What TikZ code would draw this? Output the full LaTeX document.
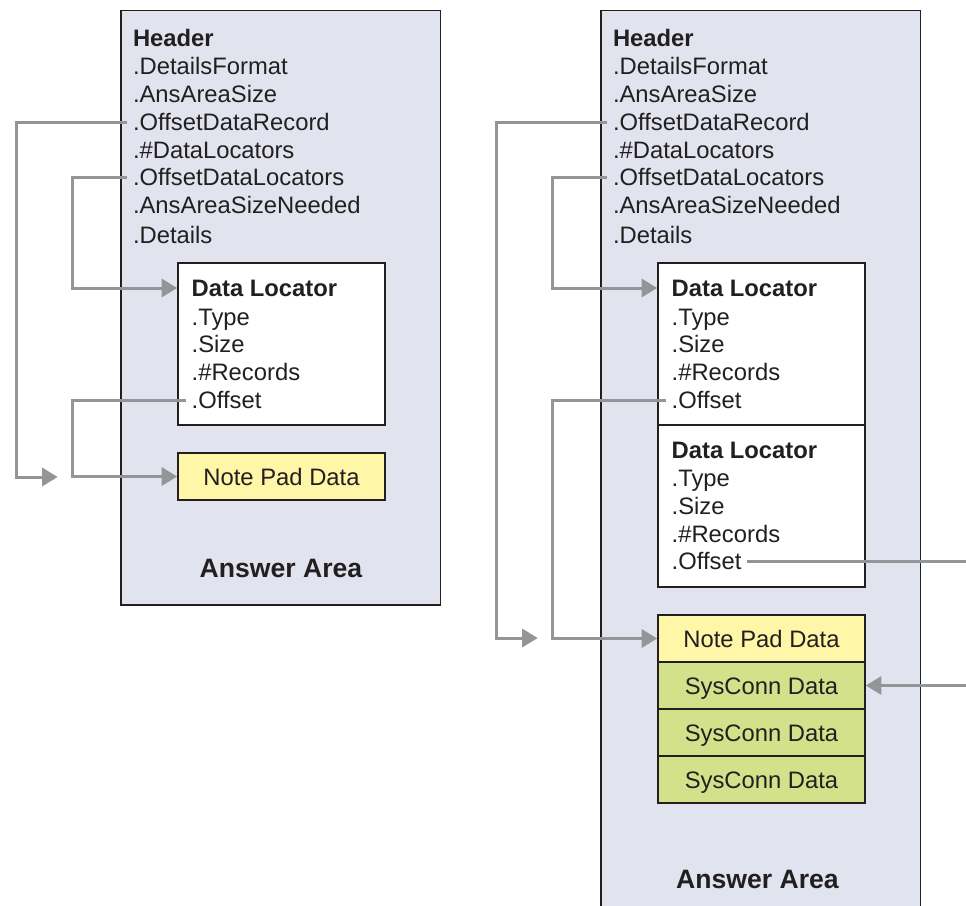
\documentclass[tikz,border=0pt]{standalone}
\usepackage{fontspec}
\setmainfont{Liberation Sans}
\usetikzlibrary{arrows.meta}
\definecolor{panelfill}{HTML}{E1E4EE}
\definecolor{padyellow}{HTML}{FFF6A8}
\definecolor{conngreen}{HTML}{D3E28A}
\definecolor{linkgray}{HTML}{939598}
\definecolor{inkdark}{HTML}{231F20}
\newcommand{\fsmain}{\fontsize{23.8}{28}\selectfont}
\newcommand{\fsbig}{\fontsize{26.6}{30}\selectfont\bfseries}
\begin{document}
\begin{tikzpicture}[x=1pt,y=-1pt,
  panel/.style={draw=inkdark, line width=1.4pt, fill=panelfill},
  recbox/.style={draw=inkdark, line width=1.6pt, fill=white, minimum width=207pt, inner sep=0pt},
  databox/.style={draw=inkdark, line width=1.6pt, minimum width=207pt, minimum height=47pt, inner sep=0pt,
     text height=17pt, text depth=0pt, font=\fsmain, text=inkdark},
  field/.style={anchor=base west, inner ysep=0pt, inner xsep=0pt, outer xsep=6pt,
     text height=16pt, text depth=0pt, font=\fsmain, text=inkdark},
  titlefield/.style={field, font=\fsmain\bfseries},
  areatitle/.style={font=\fsbig, text=inkdark, inner sep=0pt},
  link/.style={draw=linkgray, line width=3pt},
  linkarrow/.style={link, -{Triangle[length=15.5pt,width=18pt]}}
]
\useasboundingbox (0,0) rectangle (966,905);
\clip (0,0) rectangle (966,905);

% ---------- left panel ----------
\node[panel, minimum width=319.5pt, minimum height=594.3pt, inner sep=0pt] (panelL) at (280.75,307.85) {};
\node[titlefield] (hdrL) at (127,46) {Header};
\node[field] (dfL)  at (127,74)  {.DetailsFormat};
\node[field] (aasL) at (127,102) {.AnsAreaSize};
\node[field] (odrL) at (127,130) {.OffsetDataRecord};
\node[field] (ndlL) at (127,158) {.\#DataLocators};
\node[field] (odlL) at (127,185) {.OffsetDataLocators};
\node[field] (asnL) at (127,213) {.AnsAreaSizeNeeded};
\node[field] (detL) at (127,243) {.Details};

\node[recbox, minimum height=162pt] (dlL) at (281.5,344) {};
\node[titlefield] (dltL) at (185.7,296) {Data Locator};
\node[field] (typL) at (185.7,325) {.Type};
\node[field] (sizL) at (185.7,352) {.Size};
\node[field] (recL) at (185.7,380) {.\#Records};
\node[field] (offL) at (185.7,408) {.Offset};

\node[databox, fill=padyellow] (padL) at (281.5,476.5) {Note Pad Data};
\node[areatitle] (aaL) at (281,568) {Answer Area};

\coordinate (tipL) at (57.7,477);
\draw[linkarrow] (odrL.west) -- (16,0 |- odrL.west) |- (tipL);
\draw[linkarrow] (odlL.west) -- (72,0 |- odlL.west) |- (dlL.west |- dltL.west);
\draw[linkarrow] (offL.west) -- (72,0 |- offL.west) |- (padL.west);

% ---------- right panel ----------
\node[panel, minimum width=319.5pt, minimum height=930pt, inner sep=0pt] (panelR) at (760.75,475.7) {};
\node[titlefield] (hdrR) at (607,46) {Header};
\node[field] (dfR)  at (607,74)  {.DetailsFormat};
\node[field] (aasR) at (607,102) {.AnsAreaSize};
\node[field] (odrR) at (607,130) {.OffsetDataRecord};
\node[field] (ndlR) at (607,158) {.\#DataLocators};
\node[field] (odlR) at (607,185) {.OffsetDataLocators};
\node[field] (asnR) at (607,213) {.AnsAreaSizeNeeded};
\node[field] (detR) at (607,243) {.Details};

\node[recbox, minimum height=162pt] (dlR1) at (761.5,344) {};
\node[titlefield] (dltR1) at (665.7,296) {Data Locator};
\node[field] (typR1) at (665.7,325) {.Type};
\node[field] (sizR1) at (665.7,352) {.Size};
\node[field] (recR1) at (665.7,380) {.\#Records};
\node[field] (offR1) at (665.7,408) {.Offset};

\node[recbox, minimum height=162pt] (dlR2) at (761.5,506) {};
\node[titlefield] (dltR2) at (665.7,458) {Data Locator};
\node[field] (typR2) at (665.7,486) {.Type};
\node[field] (sizR2) at (665.7,514) {.Size};
\node[field] (recR2) at (665.7,542) {.\#Records};
\node[field] (offR2) at (665.7,569) {.Offset};

\node[databox, fill=padyellow] (padR) at (761.5,638.5) {Note Pad Data};
\node[databox, fill=conngreen] (sc1) at (761.5,685.5) {SysConn Data};
\node[databox, fill=conngreen] (sc2) at (761.5,732.5) {SysConn Data};
\node[databox, fill=conngreen] (sc3) at (761.5,779.5) {SysConn Data};
\node[areatitle] (aaR) at (757.5,879) {Answer Area};

\coordinate (tipR) at (537.7,638);
\draw[linkarrow] (odrR.west) -- (496,0 |- odrR.west) |- (tipR);
\draw[linkarrow] (odlR.west) -- (552,0 |- odlR.west) |- (dlR1.west |- dltR1.west);
\draw[linkarrow] (offR1.west) -- (552,0 |- offR1.west) |- (padR.west);
\draw[link] (offR2.east) -- (966,0 |- offR2.east);
\draw[linkarrow] (966,0 |- sc1.east) -- (sc1.east);
\end{tikzpicture}
\end{document}
